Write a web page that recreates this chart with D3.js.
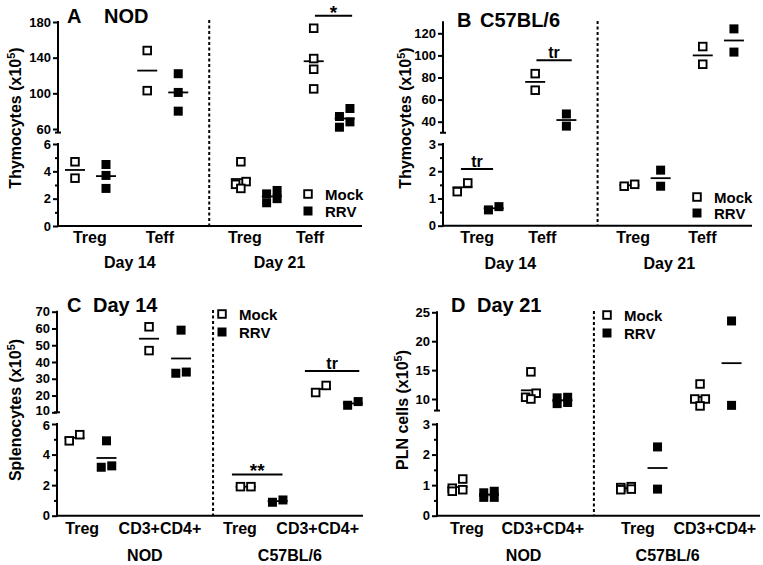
<!DOCTYPE html>
<html><head><meta charset="utf-8">
<script src="https://cdn.jsdelivr.net/npm/d3@7"></script>
<style>
body{margin:0;background:#fff}
text{font-family:"Liberation Sans",Arial,Helvetica,sans-serif;font-weight:bold;fill:#000}
</style>
</head><body>
<svg id="chart" width="763" height="565"></svg>
<script>
// ---------- DATA ----------
const treatments = ["Mock","RRV","Mock","RRV","Mock","RRV","Mock","RRV"];

// Panel A: NOD thymocytes (x10^5)
const catsA = ["Treg","Teff","Treg","Teff"];
const grpA  = ["Day 14","Day 21"];
const valsA = [[4.7,3.5],[4.5,3.7,2.75],[148,103],[122,101,80],
               [4.7,3.25,3.05,2.75],[2.6,2.35,2.0,1.7],[173,139,127,105],[83,74,68,62]];
const ticksA_up = [60,100,140,180], ticksA_low = [0,2,4,6];

// Panel B: C57BL/6 thymocytes (x10^5)
const catsB = ["Treg","Teff","Treg","Teff"];
const grpB  = ["Day 14","Day 21"];
const valsB = [[1.25,1.57],[0.58,0.7],[83.5,68.5],[47,36],
               [1.45,1.52],[2.04,1.45],[108,92],[124,103]];
const ticksB_up = [40,60,80,100,120], ticksB_low = [0,1,2,3];

// Panel C: Day 14 splenocytes (x10^5)
const catsC = ["Treg","CD3+CD4+","Treg","CD3+CD4+"];
const grpC  = ["NOD","C57BL/6"];
const valsC = [[4.9,5.3],[4.9,3.17,3.26],[61,46.8],[59,33.3,34],
               [1.9,1.9],[0.88,1.03],[21.8,26],[14.2,16.4]];
const ticksC_up = [10,20,30,40,50,60,70], ticksC_low = [0,2,4,6];

// Panel D: Day 21 PLN cells (x10^5)
const catsD = ["Treg","CD3+CD4+","Treg","CD3+CD4+"];
const grpD  = ["NOD","C57BL/6"];
const valsD = [[1.2,0.9,0.85,0.8],[0.8,0.75,0.6,0.6],[14.7,11,10.3,10],[10.3,10.2,9.4,9.2],
               [0.95,0.92,0.87,0.85],[2.25,0.87],[12.6,10,10,8.8],[23.5,8.9]];
const ticksD_up = [10,15,20,25], ticksD_low = [0,1,2,3];

// significance annotations: [fromGroup, toGroup, level value, label]
const sigA = [[6,7,187,"*"]];
const sigB = [[0,1,2.08,"tr"],[2,3,95.7,"tr"]];
const sigC = [[4,5,2.7,"**"],[6,7,34.7,"tr"]];
const sigD = [];

// ---------- LAYOUT ----------
const slots = [0,1,2.33,3.33,5.35,6.35,7.7,8.7];
const svg = d3.select("#chart");

const panels = [
 {letter:"A", title:"NOD", titleX:[67,104], titleY:23, vals:valsA, cats:catsA, grps:grpA, sig:sigA,
  sigX:[[7.74,8.94]],
  axisX:58, xEnd:362, slot0:75, unit:31,
  up:{cal:[60,129,180,22], ticks:ticksA_up, top:180, cap:56}, low:{dom:[0,6], range:[226,144], ticks:ticksA_low, minor:[1,3,5]},
  divTop:20, catSlots:[0.48,2.74,5.48,7.58], grpSlots:[1.77,6.6], catY:243, grpY:268,
  yTitle:"Thymocytes (x10", ytX:21, ytY:118, legX:308, legY:[194,211]},
 {letter:"B", title:"C57BL/6", titleX:[457,480], titleY:27, vals:valsB, cats:catsB, grps:grpB, sig:sigB,
  sigX:[[-0.05,0.98],[2.37,3.5]],
  axisX:443, xEnd:752, slot0:462.5, unit:31.2,
  up:{cal:[40,121.7,120,33.3], ticks:ticksB_up, top:130, cap:30}, low:{dom:[0,3], range:[225.7,144], ticks:ticksB_low, minor:[0.5,1.5,2.5]},
  divTop:21, catSlots:[0.47,2.56,5.47,7.69], grpSlots:[1.53,6.63], catY:243, grpY:269,
  yTitle:"Thymocytes (x10", ytX:411, ytY:118, legX:697, legY:[197,213]},
 {letter:"C", title:"Day 14", titleX:[67,93], titleY:312, vals:valsC, cats:catsC, grps:grpC, sig:sigC,
  sigX:[[4.92,6.5],[7.2,8.9]],
  axisX:57, xEnd:363, slot0:74.5, unit:32,
  up:{cal:[10,412.3,70,311.7], ticks:ticksC_up, top:70, cap:10}, low:{dom:[0,6], range:[515.7,424], ticks:ticksC_low, minor:[1,3,5]},
  divTop:310, catSlots:[0.24,2.67,5.17,7.6], grpSlots:[2.2,6.73], catY:534, grpY:561,
  yTitle:"Splenocytes (x10", ytX:21, ytY:410, legX:222, legY:[314,332]},
 {letter:"D", title:"Day 21", titleX:[451,477], titleY:312, vals:valsD, cats:catsD, grps:grpD, sig:sigD,
  sigX:[],
  axisX:437, xEnd:760, slot0:457.5, unit:31.5,
  up:{cal:[10,399,25,312.3], ticks:ticksD_up, top:25, cap:8}, low:{dom:[0,3], range:[515.7,424], ticks:ticksD_low, minor:[0.5,1.5,2.5]},
  divTop:311, catSlots:[0.3,2.71,5.73,8.17], grpSlots:[2.1,6.67], catY:534, grpY:561,
  yTitle:"PLN cells (x10", ytX:408, ytY:410, legX:607, legY:[315,333]}
];

function drawPanel(p){
  const g = svg.append("g");
  const yLow = d3.scaleLinear().domain(p.low.dom).range(p.low.range);
  const yUp = d3.scaleLinear().domain([p.up.cal[0],p.up.cal[2]]).range([p.up.cal[1],p.up.cal[3]]);
  const yOf = v => v <= p.low.dom[1] ? yLow(v) : yUp(v);
  const x = d3.scaleLinear().domain([0,1]).range([p.slot0, p.slot0+p.unit]);
  const y0 = yLow(0);
  const fmt = d3.format("d");

  // axes
  const aLow = g.append("g").attr("transform",`translate(${p.axisX},0)`)
    .call(d3.axisLeft(yLow).tickValues(p.low.ticks).tickFormat(fmt).tickSize(5).tickSizeOuter(0).tickPadding(2));
  const aLowMinor = g.append("g").attr("transform",`translate(${p.axisX},0)`)
    .call(d3.axisLeft(yLow).tickValues(p.low.minor).tickSize(3).tickSizeOuter(0).tickFormat(""));
  const aUp = g.append("g").attr("transform",`translate(${p.axisX},0)`)
    .call(d3.axisLeft(yUp).tickValues(p.up.ticks).tickFormat(fmt).tickSize(5).tickSizeOuter(0).tickPadding(2));
  [aLow,aLowMinor,aUp].forEach(a=>{
    a.select(".domain").remove();
    a.selectAll("line").attr("stroke","#000").attr("stroke-width",2);
    a.selectAll("text").style("font-size","13px").style("font-family","'Liberation Sans',Arial,sans-serif").style("font-weight","bold");
  });
  // keep the two labels at the axis break from touching
  const gap = yLow(p.low.dom[1]) - yUp(d3.min(p.up.ticks));
  if (gap < 15) {
    const n = (15 - gap) / 2;
    aUp.selectAll(".tick").filter(d => d === d3.min(p.up.ticks)).select("text").attr("dy", `${0.32 - n/13}em`);
    aLow.selectAll(".tick").filter(d => d === p.low.dom[1]).select("text").attr("dy", `${0.32 + n/13}em`);
  }
  // axis lines
  g.append("line").attr("x1",p.axisX).attr("x2",p.axisX).attr("y1",yLow(p.low.dom[1])-1).attr("y2",y0+1)
    .attr("stroke","#000").attr("stroke-width",2);
  g.append("line").attr("x1",p.axisX).attr("x2",p.axisX).attr("y1",yUp(p.up.top)-1).attr("y2",yUp(p.up.cap))
    .attr("stroke","#000").attr("stroke-width",2);
  g.append("line").attr("x1",p.axisX-3).attr("x2",p.axisX+3).attr("y1",yUp(p.up.cap)).attr("y2",yUp(p.up.cap))
    .attr("stroke","#000").attr("stroke-width",2);
  g.append("line").attr("x1",p.axisX-1).attr("x2",p.xEnd).attr("y1",y0).attr("y2",y0)
    .attr("stroke","#000").attr("stroke-width",2);
  // divider
  g.append("line").attr("x1",x(4.33)).attr("x2",x(4.33)).attr("y1",p.divTop).attr("y2",y0)
    .attr("stroke","#000").attr("stroke-width",2).attr("stroke-dasharray","3,2.5");

  // points with dodge
  p.vals.forEach((vals,gi)=>{
    const cx = x(slots[gi]);
    const pts = vals.map(v=>({v, y:yOf(v)})).sort((a,b)=>a.y-b.y);
    const bins = [];
    pts.forEach(pt=>{
      const b = bins[bins.length-1];
      if (b && pt.y - b[0].y < 9.5 && b.length < 2) b.push(pt); else bins.push([pt]);
    });
    bins.forEach(b=>{
      b.sort((a,c)=>c.y-a.y);
      b.forEach((pt,i)=>pt.dx = (i-(b.length-1)/2)*10.5);
    });
    // mean line
    const m = d3.mean(vals);
    g.append("line").attr("x1",cx-10).attr("x2",cx+10).attr("y1",yOf(m)).attr("y2",yOf(m))
      .attr("stroke","#000").attr("stroke-width",1.8);
    const filled = treatments[gi]==="RRV";
    g.selectAll(null).data(pts).enter().append("rect")
      .attr("x",d=> filled ? cx+d.dx-4.5 : cx+d.dx-3.8)
      .attr("y",d=> filled ? d.y-4.5 : d.y-3.8)
      .attr("width", filled?9:7.6).attr("height", filled?9:7.6)
      .attr("fill", filled?"#000":"#fff").attr("stroke","#000").attr("stroke-width", filled?0:1.9);
  });

  // significance
  p.sig.forEach((s,i)=>{
    const yy = yOf(s[2]);
    const [a,b] = p.sigX[i];
    g.append("line").attr("x1",x(a)).attr("x2",x(b)).attr("y1",yy).attr("y2",yy).attr("stroke","#000").attr("stroke-width",2);
    const star = s[3].includes("*");
    g.append("text").attr("x",(x(a)+x(b))/2).attr("y", star? yy+3 : yy-2).attr("text-anchor","middle")
      .style("font-size", star?"19px":"16px").text(s[3]);
  });

  // category labels
  p.cats.forEach((c,i)=> g.append("text").attr("x",x(p.catSlots[i])).attr("y",p.catY).attr("text-anchor","middle").style("font-size","16px").text(c));
  p.grps.forEach((c,i)=> g.append("text").attr("x",x(p.grpSlots[i])).attr("y",p.grpY).attr("text-anchor","middle").style("font-size","16px").text(c));

  // title
  g.append("text").attr("x",p.titleX[0]).attr("y",p.titleY).style("font-size","20px").text(p.letter);
  g.append("text").attr("x",p.titleX[1]).attr("y",p.titleY).style("font-size","20px").text(p.title);

  // y title
  const t = g.append("text").attr("transform",`translate(${p.ytX},${p.ytY}) rotate(-90)`).attr("text-anchor","middle").style("font-size","16px");
  t.append("tspan").text(p.yTitle);
  t.append("tspan").attr("dy",-6).style("font-size","11px").text("5");
  t.append("tspan").attr("dy",6).text(")");

  // legend
  ["Mock","RRV"].forEach((name,i)=>{
    const ly = p.legY[i];
    if (name==="Mock")
      g.append("rect").attr("x",p.legX-3.8).attr("y",ly-3.8).attr("width",7.6).attr("height",7.6).attr("fill","#fff").attr("stroke","#000").attr("stroke-width",1.9);
    else
      g.append("rect").attr("x",p.legX-4.5).attr("y",ly-4.5).attr("width",9).attr("height",9).attr("fill","#000");
    g.append("text").attr("x",p.legX+17).attr("y",ly+6).style("font-size","15px").text(name);
  });
}
panels.forEach(drawPanel);
</script>
</body></html>
